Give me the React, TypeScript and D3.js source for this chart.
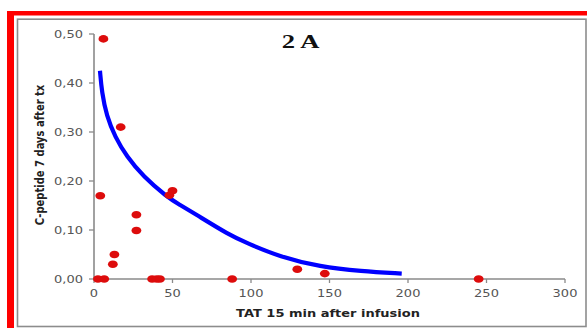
import React, { useEffect, useRef } from 'react';
import * as d3 from 'd3';

// scatter: TAT at 15 min vs C-peptide at day 7
const tatValues = [6, 17, 4, 27, 27, 13, 12, 48, 50, 2.5, 6.5, 37, 40, 42, 88, 129.5, 147, 245];
const cPeptideValues = [0.49, 0.31, 0.17, 0.131, 0.099, 0.05, 0.03, 0.171, 0.18, 0, 0, 0, 0, 0, 0, 0.02, 0.011, 0];

// trend curve
const trendX = [3.8, 5, 8, 13.4, 20.8, 31.4, 46.3, 54.8, 63.3, 86.6, 97, 118.5, 144, 170, 196];
const trendY = [0.425, 0.381, 0.333, 0.29, 0.25, 0.209, 0.168, 0.151, 0.135, 0.089, 0.074, 0.045, 0.025, 0.016, 0.011];

const xTicks = [0, 50, 100, 150, 200, 250, 300];
const yTicks = [0, 0.1, 0.2, 0.3, 0.4, 0.5];

const W = 587;
const H = 328;
const STRETCH = 1.3;
const FONT = '"DejaVu Sans", Verdana, sans-serif';

function ScatterChart() {
    const svgRef = useRef<SVGSVGElement | null>(null);

    useEffect(() => {
        const svg = d3.select(svgRef.current);
        svg.selectAll('*').remove();

        const x = d3.scaleLinear().domain([0, 300]).range([94, 565]);
        const y = d3.scaleLinear().domain([0, 0.5]).range([279, 34]);

        // red frame + grey box
        svg.append('rect').attr('x', 7).attr('y', 11).attr('width', W - 7).attr('height', 4.5).attr('fill', '#ff0000');
        svg.append('rect').attr('x', 7).attr('y', 11).attr('width', 7).attr('height', H - 11).attr('fill', '#ff0000');
        svg.append('rect')
            .attr('x', 17.5).attr('y', 19.2)
            .attr('width', 568.5).attr('height', 307.3)
            .attr('fill', 'none').attr('stroke', '#8c8c8c').attr('stroke-width', 1.6);

        // axes
        const axisColor = '#8a8a8a';
        svg.append('line')
            .attr('x1', x(0)).attr('x2', x(300)).attr('y1', y(0)).attr('y2', y(0))
            .attr('stroke', axisColor).attr('stroke-width', 1.6);
        svg.append('line')
            .attr('x1', x(0)).attr('x2', x(0)).attr('y1', y(0)).attr('y2', y(0.5))
            .attr('stroke', axisColor).attr('stroke-width', 1.6);

        svg.selectAll('.xtick')
            .data(xTicks)
            .enter()
            .append('line')
            .attr('x1', d => x(d)).attr('x2', d => x(d))
            .attr('y1', y(0)).attr('y2', y(0) + 4)
            .attr('stroke', axisColor).attr('stroke-width', 1.3);

        svg.selectAll('.ytick')
            .data(yTicks)
            .enter()
            .append('line')
            .attr('x1', x(0) - 5).attr('x2', x(0))
            .attr('y1', d => y(d)).attr('y2', d => y(d))
            .attr('stroke', axisColor).attr('stroke-width', 1.3);

        svg.selectAll('.xlabel')
            .data(xTicks)
            .enter()
            .append('text')
            .attr('transform', d => `translate(${x(d)},297) scale(${STRETCH},1)`)
            .attr('text-anchor', 'middle')
            .style('font-family', FONT)
            .style('font-size', '10px')
            .style('fill', '#555')
            .text(d => String(d));

        svg.selectAll('.ylabel')
            .data(yTicks)
            .enter()
            .append('text')
            .attr('transform', d => `translate(83,${y(d) + 3.6}) scale(${STRETCH},1)`)
            .attr('text-anchor', 'end')
            .style('font-family', FONT)
            .style('font-size', '10px')
            .style('fill', '#555')
            .text(d => d.toFixed(2).replace('.', ','));

        // titles
        svg.append('text')
            .attr('transform', `translate(328,316.5) scale(${STRETCH},1)`)
            .attr('text-anchor', 'middle')
            .style('font-family', FONT)
            .style('font-size', '10px')
            .style('font-weight', 'bold')
            .style('fill', '#222')
            .text('TAT 15 min after infusion');

        svg.append('text')
            .attr('transform', `translate(43.5,155) scale(${STRETCH},1) rotate(-90)`)
            .attr('text-anchor', 'middle')
            .style('font-family', FONT)
            .style('font-size', '10px')
            .style('font-weight', 'bold')
            .style('fill', '#222')
            .text('C-peptide 7 days after tx');

        svg.append('text')
            .attr('transform', 'translate(300.5,48) scale(1.4,1)')
            .attr('text-anchor', 'middle')
            .style('font-family', '"Liberation Serif", "Times New Roman", serif')
            .style('font-size', '19px')
            .style('font-weight', 'bold')
            .style('fill', '#111')
            .text('2 A');

        // trend curve
        const line = d3.line<number>()
            .x((d, i) => x(trendX[i]))
            .y(d => y(d))
            .curve(d3.curveBasis);

        svg.append('path')
            .attr('d', line(trendY))
            .attr('fill', 'none')
            .attr('stroke', '#0000ff')
            .attr('stroke-width', 4.2);

        // points
        svg.selectAll('.pt')
            .data(tatValues)
            .enter()
            .append('ellipse')
            .attr('cx', d => x(d))
            .attr('cy', (d, i) => y(cPeptideValues[i]))
            .attr('rx', 4.9)
            .attr('ry', 3.8)
            .attr('fill', '#dd0c0c');
    }, []);

    return <svg ref={svgRef} width={W} height={H} style={{ display: 'block' }}></svg>;
}

export default function App() {
    return (
        <div style={{ position: 'fixed', left: 0, top: 0, width: W, height: H, background: '#fff' }}>
            <ScatterChart />
        </div>
    );
}
